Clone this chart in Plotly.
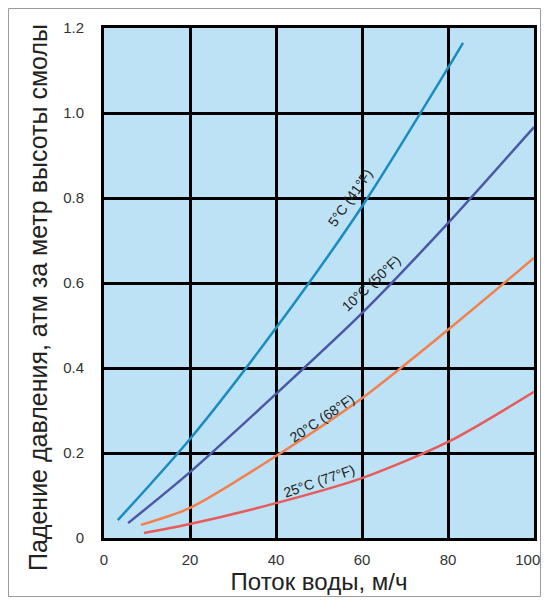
import plotly.graph_objects as go

# Flow (m/h) and pressure drop (atm per metre of resin), read at the grid lines
x_5c = [3.2, 20, 40, 60, 80, 83.5]
y_5c = [0.042, 0.233, 0.494, 0.78, 1.106, 1.165]

x_10c = [5.6, 20, 40, 60, 80, 100]
y_10c = [0.035, 0.155, 0.339, 0.529, 0.741, 0.967]

x_20c = [8.6, 20, 40, 60, 80, 100]
y_20c = [0.031, 0.071, 0.193, 0.329, 0.49, 0.659]

x_25c = [9.3, 20, 40, 60, 80, 100]
y_25c = [0.012, 0.033, 0.082, 0.141, 0.226, 0.344]

series_names = ["5°C (41°F)", "10°C (50°F)", "20°C (68°F)", "25°C (77°F)"]
series_colors = ["#1a8cc0", "#4b58a6", "#f2804f", "#e85b5b"]

x_ticks = [0, 20, 40, 60, 80, 100]
x_tick_text = ["0", "20", "40", "60", "80", "100\u00a0\u00a0\u00a0"]
y_ticks = [0, 0.2, 0.4, 0.6, 0.8, 1.0, 1.2]
y_tick_text = ["0", "0.2", "0.4", "0.6", "0.8", "1.0", "1.2"]

x_title = "Поток воды, м/ч"
y_title = "Падение давления, атм за метр высоты смолы"

# label positions (data coords) and angles
label_x = [57.2, 62.2, 50.8, 50.0]
label_y = [0.80, 0.60, 0.282, 0.134]
label_angle = [-55, -43, -34, -19]

fig = go.Figure()
for xs, ys, name, col in zip([x_5c, x_10c, x_20c, x_25c],
                             [y_5c, y_10c, y_20c, y_25c],
                             series_names, series_colors):
    fig.add_trace(go.Scatter(x=xs, y=ys, mode="lines", name=name,
                             line=dict(color=col, width=2.5, shape="spline", smoothing=0.8),
                             showlegend=False))

for name, lx, ly, ang in zip(series_names, label_x, label_y, label_angle):
    fig.add_annotation(x=lx, y=ly, text=name, showarrow=False, textangle=ang,
                       font=dict(family="Liberation Sans, Arial", size=14, color="#222"))

# y axis title
fig.add_annotation(xref="paper", yref="paper", x=-0.1535, y=0.4725, text=y_title,
                   showarrow=False, textangle=-90, xanchor="center", yanchor="middle",
                   font=dict(family="Liberation Sans, Arial", size=25, color="#222"))

# outer frame of the picture
fig.add_shape(type="rect", xref="paper", yref="paper",
              x0=-0.2221, x1=1.0151, y0=-0.1147, y1=1.0382,
              line=dict(color="#9a9a9a", width=1), layer="below")

fig.update_layout(
    width=541, height=589,
    margin=dict(l=96, r=15, t=20, b=59),
    paper_bgcolor="white",
    plot_bgcolor="#bde2f6",
    font=dict(family="Liberation Sans, Arial", color="#333"),
    xaxis=dict(range=[0, 100], tickvals=x_ticks, ticktext=x_tick_text, showgrid=True, automargin=False,
               ticklabeloverflow="allow",
               gridcolor="black", gridwidth=3, zeroline=False,
               showline=True, linecolor="black", linewidth=3, mirror=True,
               ticks="outside", ticklen=6, tickcolor="rgba(0,0,0,0)",
               tickfont=dict(size=15, color="#333"),
               title=dict(text=x_title, font=dict(size=24, color="#222"), standoff=6)),
    yaxis=dict(range=[0, 1.2], tickvals=y_ticks, ticktext=y_tick_text, showgrid=True, automargin=False,
               gridcolor="black", gridwidth=3, zeroline=False,
               showline=True, linecolor="black", linewidth=3, mirror=True,
               ticks="outside", ticklen=14, tickcolor="rgba(0,0,0,0)",
               tickfont=dict(size=15, color="#333")),
)

fig.write_html("out.html")
